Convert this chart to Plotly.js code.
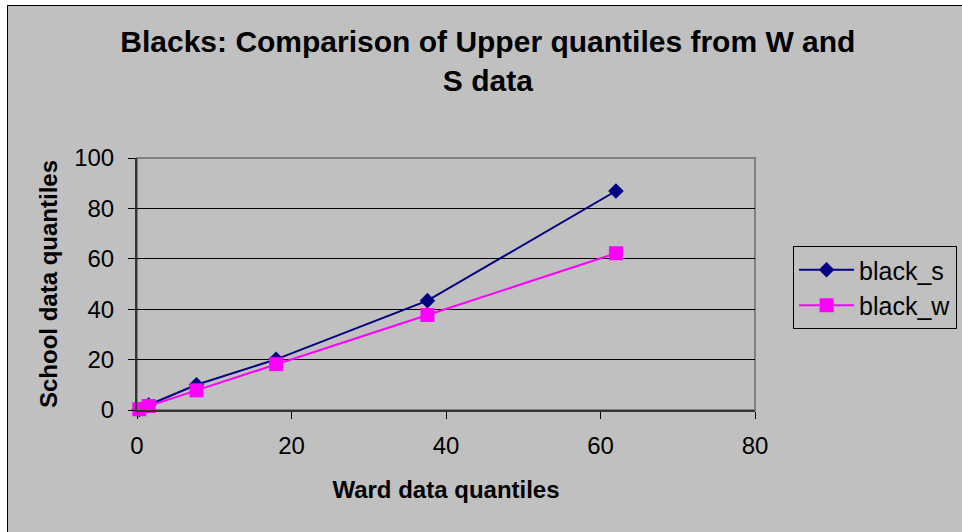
<!DOCTYPE html>
<html>
<head>
<meta charset="utf-8">
<script src="https://cdn.plot.ly/plotly-3.0.1.min.js"></script>
<style>
  html, body { margin: 0; padding: 0; background: #ffffff; overflow: hidden; }
  #frame {
    position: absolute; left: 7px; top: 5px; width: 1000px; height: 600px;
    border-left: 1px solid #000; border-top: 1px solid #000; background: #c0c0c0;
  }
  #chart1 { position: absolute; left: 8px; top: 6px; width: 954px; height: 526px; }
</style>
</head>
<body>
<div id="frame"></div>
<div id="chart1"></div>
<script>
// ward quantiles (x) shared by both series
const wardQuantiles = [0.3, 1.5, 7.7, 18, 37.6, 62]
const blackS = [0.2, 2.0, 10.0, 20.1, 43.4, 86.9]
const blackW = [0.3, 1.6, 7.8, 18.2, 37.7, 62.2]
const xTicks = [0, 20, 40, 60, 80]
const yTicks = [0, 20, 40, 60, 80, 100]

const FONT = 'Arial, "Liberation Sans", sans-serif'

const traceS = {
  x: wardQuantiles,
  y: blackS,
  type: 'scatter',
  mode: 'lines+markers',
  name: 'black_s',
  cliponaxis: false,
  line: { color: '#000080', width: 2 },
  marker: { symbol: 'diamond', size: 12, color: '#000080' }
}

const traceW = {
  x: wardQuantiles,
  y: blackW,
  type: 'scatter',
  mode: 'lines+markers',
  name: 'black_w',
  cliponaxis: false,
  line: { color: '#ff00ff', width: 2 },
  marker: { symbol: 'square', size: 14, color: '#ff00ff' }
}

const layout = {
  width: 954,
  height: 526,
  margin: { l: 129, r: 207, t: 152, b: 122 },
  paper_bgcolor: '#c0c0c0',
  plot_bgcolor: '#c0c0c0',
  font: { family: FONT, color: '#000', size: 24 },
  title: {
    text: '<b>Blacks: Comparison of Upper quantiles from W and<br>S data</b>',
    font: { size: 30, family: FONT, color: '#000' },
    xref: 'container', x: 0.503, xanchor: 'center',
    yref: 'container', y: 0.912, yanchor: 'middle'
  },
  xaxis: {
    range: [0, 80],
    tickvals: xTicks,
    ticks: 'outside', ticklen: 7, tickcolor: '#000',
    ticklabelstandoff: 6,
    showgrid: false, zeroline: false,
    showline: true, linecolor: '#333', linewidth: 2,
    tickfont: { size: 24 },
    title: { text: '<b>Ward data quantiles</b>', font: { size: 24 }, standoff: 23 }
  },
  yaxis: {
    range: [0, 100],
    tickvals: yTicks,
    ticks: 'outside', ticklen: 7, tickcolor: '#000',
    ticklabelstandoff: 9,
    showgrid: true, gridcolor: '#000', gridwidth: 1,
    zeroline: false,
    showline: true, linecolor: '#333', linewidth: 2,
    tickfont: { size: 24 },
    title: { text: '<b>School data quantiles</b>', font: { size: 24 }, standoff: 10 }
  },
  shapes: [{
    type: 'rect', xref: 'paper', yref: 'paper', x0: 0, x1: 1, y0: 0, y1: 1,
    line: { color: '#808080', width: 2 }, layer: 'below'
  }],
  legend: {
    xref: 'container', x: 0.8229, xanchor: 'left',
    yref: 'container', y: 0.5437, yanchor: 'top',
    itemwidth: 55,
    bgcolor: '#c0c0c0', bordercolor: '#000', borderwidth: 1,
    font: { size: 25, family: FONT }
  },
  showlegend: true
}

Plotly.newPlot('chart1', [traceS, traceW], layout, { displayModeBar: false, responsive: false })
</script>
</body>
</html>
